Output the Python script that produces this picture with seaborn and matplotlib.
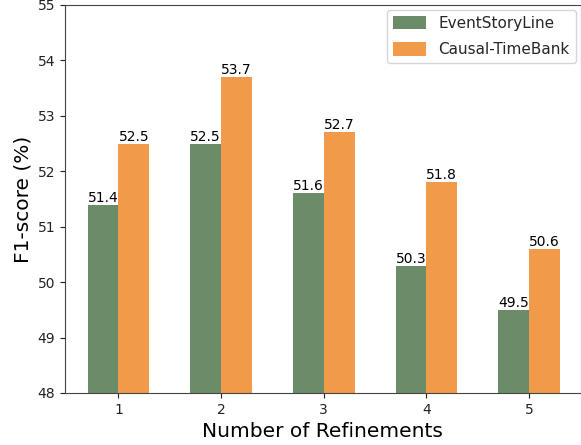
import pandas as pd
import matplotlib
matplotlib.use('Agg')
import matplotlib.pyplot as plt
import seaborn as sns

refinements = ['1', '2', '3', '4', '5']
event_story_line = [51.4, 52.5, 51.6, 50.3, 49.5]
causal_timebank = [52.5, 53.7, 52.7, 51.8, 50.6]

df = pd.DataFrame({
    'refinements': refinements * 2,
    'score': event_story_line + causal_timebank,
    'dataset': ['EventStoryLine'] * 5 + ['Causal-TimeBank'] * 5,
})

sns.set_style('ticks')
plt.rcParams['font.family'] = ['DejaVu Sans']

fig = plt.figure(figsize=(5.81, 4.45), dpi=100)
ax = fig.add_axes([65/581, 52/445, 515.5/581, 388/445])

sns.barplot(data=df, x='refinements', y='score', hue='dataset',
            palette=['#6b8c69', '#f19b4a'], width=0.6, saturation=1,
            linewidth=0, edgecolor='none', ax=ax)

ax.set_ylim(48, 55)
ax.set_xlim(-0.52, 4.5)
for c in ax.containers:
    ax.bar_label(c, fmt='%.1f', fontsize=10, padding=0, color='black')

ax.set_xlabel('Number of Refinements', fontsize=14.5, color='black')
ax.set_ylabel('F1-score (%)', fontsize=14.5, color='black')
ax.tick_params(labelsize=10, colors='#222222')
for s in ax.spines.values():
    s.set_color('#444444')
ax.legend(loc='upper right', fontsize=11, title=None, borderaxespad=0.3,
          labelspacing=0.75, handlelength=2.2, handleheight=1.0)

fig.savefig('out.png', dpi=100)
